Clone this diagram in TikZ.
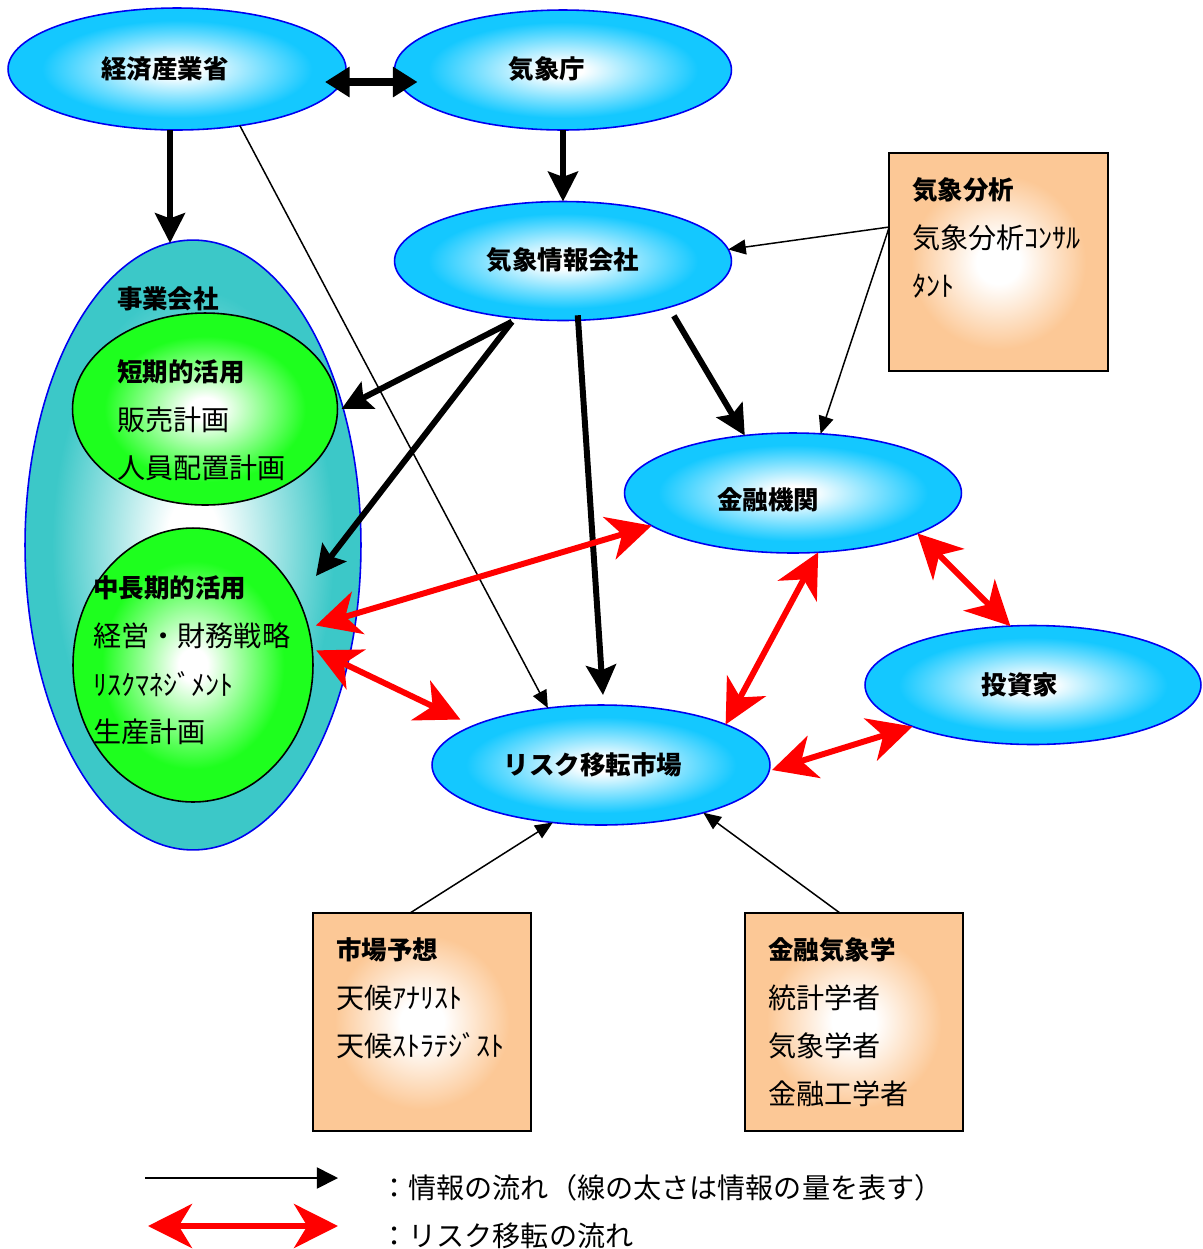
\documentclass[tikz,border=0pt]{standalone}
\usepackage{fontspec}
\setmainfont{Noto Sans CJK JP}
\usetikzlibrary{shapes.geometric,arrows.meta,calc}
\definecolor{bcyan}{RGB}{20,200,255}
\definecolor{ellblue}{RGB}{0,0,240}
\definecolor{corpteal}{RGB}{60,200,200}
\definecolor{lgreen}{RGB}{30,255,30}
\definecolor{peach}{RGB}{252,200,150}
\pgfdeclareradialshading{bluesh}{\pgfpoint{0bp}{0bp}}{color(0bp)=(white); color(3bp)=(white); color(20bp)=(bcyan); color(25bp)=(bcyan); color(50bp)=(bcyan)}
\pgfdeclareradialshading{tealsh}{\pgfpoint{0bp}{0bp}}{color(0bp)=(white); color(4bp)=(white); color(21bp)=(corpteal); color(25bp)=(corpteal); color(50bp)=(corpteal)}
\pgfdeclareradialshading{greensh}{\pgfpoint{0bp}{0bp}}{color(0bp)=(white); color(3bp)=(white); color(19bp)=(lgreen); color(25bp)=(lgreen); color(50bp)=(lgreen)}
\pgfdeclareradialshading{peachsh}{\pgfpoint{0bp}{0bp}}{color(0bp)=(white); color(5bp)=(white); color(20bp)=(peach); color(25bp)=(peach); color(50bp)=(peach)}
\tikzset{
  org/.style={ellipse, draw=ellblue, line width=0.9pt, shade, shading=bluesh, inner sep=0pt, outer sep=0pt},
  corpell/.style={ellipse, draw=ellblue, line width=0.9pt, shade, shading=tealsh, inner sep=0pt, outer sep=0pt},
  greenell/.style={ellipse, draw=black, line width=0.9pt, shade, shading=greensh, inner sep=0pt, outer sep=0pt},
  pbox/.style={rectangle, draw=black, line width=0.9pt, shade, shading=peachsh, inner sep=0pt, outer sep=0pt, minimum width=4.37cm, minimum height=4.36cm},
  lab/.style={font=\bfseries\fontsize{14.5}{17}\selectfont, inner sep=0pt},
  blab/.style={font=\bfseries\fontsize{14.5}{17}\selectfont, inner sep=0pt, anchor=west},
  txt/.style={font=\fontsize{16}{19}\selectfont, inner sep=0pt, anchor=west},
  thinarr/.style={draw=black, line width=0.85pt, arrows={-Triangle[length=10pt,width=8.5pt]}},
  thickarr/.style={draw=black, line width=3.4pt, arrows={-Stealth[length=17pt,width=17pt,inset=3pt]}},
  toparr/.style={draw=black, line width=4pt, arrows={Triangle[length=14pt,width=16.5pt]-Triangle[length=14pt,width=16.5pt]}},
  riskarr/.style={draw=red, line width=3.4pt, arrows={Stealth[length=25pt,width=25pt,inset=7.5pt]-Stealth[length=25pt,width=25pt,inset=7.5pt]}},
}
\begin{document}
\begin{tikzpicture}[x=0.02cm,y=-0.02cm]
\useasboundingbox (0,0) rectangle (1203,1249);
% ellipses
\node[org, minimum width=6.76cm, minimum height=2.44cm] (meti) at (177,69) {};
\node[org, minimum width=6.74cm, minimum height=2.4cm] (jma) at (563,70) {};
\node[org, minimum width=6.74cm, minimum height=2.38cm] (wic) at (563,261) {};
\node[corpell, minimum width=6.72cm, minimum height=12.2cm] (corp) at (193,545) {};
\node[greenell, minimum width=5.3cm, minimum height=3.84cm] (short) at (205,409) {};
\node[greenell, minimum width=4.8cm, minimum height=5.48cm] (mid) at (193,665) {};
\node[org, minimum width=6.74cm, minimum height=2.4cm] (fin) at (793,493) {};
\node[org, minimum width=6.72cm, minimum height=2.38cm] (inv) at (1033,685) {};
\node[org, minimum width=6.76cm, minimum height=2.4cm] (risk) at (601,765) {};
% boxes
\node[pbox] (boxA) at (998.5,262) {};
\node[pbox] (boxB) at (422,1022) {};
\node[pbox] (boxC) at (854,1022) {};
% labels
\node[lab] (tmeti) at (165,69) {経済産業省};
\node[lab] (tjma) at (547,69) {気象庁};
\node[lab] (twic) at (563,260) {気象情報会社};
\node[lab] (tcorp) at (168,299) {事業会社};
\node[lab] (tfin) at (768,500) {金融機関};
\node[lab] (tinv) at (1020,685) {投資家};
\node[lab] (trisk) at (593,765) {リスク移転市場};
\node[blab] (ts1) at (117,372) {短期的活用};
\node[txt] (ts2) at (117,420) {販売計画};
\node[txt] (ts3) at (117,468) {人員配置計画};
\node[blab] (tm1) at (93,588) {中長期的活用};
\node[txt] (tm2) at (93,636) {経営・財務戦略};
\node[txt] (tm3) at (93,684) {ﾘｽｸﾏﾈｼﾞﾒﾝﾄ};
\node[txt] (tm4) at (93,732) {生産計画};
\node[blab] (ta1) at (912,190) {気象分析};
\node[txt] (ta2) at (912,238) {気象分析ｺﾝｻﾙ};
\node[txt] (ta3) at (912,286) {ﾀﾝﾄ};
\node[blab] (tb1) at (336,950) {市場予想};
\node[txt] (tb2) at (336,998) {天候ｱﾅﾘｽﾄ};
\node[txt] (tb3) at (336,1046) {天候ｽﾄﾗﾃｼﾞｽﾄ};
\node[blab] (tc1) at (768,950) {金融気象学};
\node[txt] (tc2) at (768,998) {統計学者};
\node[txt] (tc3) at (768,1046) {気象学者};
\node[txt] (tc4) at (768,1094) {金融工学者};
% black connectors
\draw[toparr] ([shift={(-21,13)}]meti.east) -- ([shift={(23,12)}]jma.west);
\draw[thickarr] ([shift={(-7,0)}]meti.south) -- ([shift={(-23,3)}]corp.north);
\draw[thickarr] (jma.south) -- (wic.north);
\draw[thickarr] ([shift={(0,4)}]wic.-132) -- ([shift={(4,0)}]short.east);
\draw[thickarr] ([shift={(0,4)}]wic.-132) -- ([shift={(3,-89)}]mid.east);
\draw[thickarr] ([shift={(0,-5)}]wic.-76) -- ([shift={(2,-10)}]risk.north);
\draw[thickarr] ([shift={(0,10)}]wic.-22) -- (fin.130);
\draw[thinarr] (meti.-42) -- (risk.133);
\draw[thinarr] ([shift={(0,-35)}]boxA.west) -- (wic.4);
\draw[thinarr] ([shift={(0,-35)}]boxA.west) -- (fin.65);
\draw[thinarr] ([shift={(-12,0)}]boxB.north) -- (risk.-130);
\draw[thinarr] ([shift={(-14,0)}]boxC.north) -- (risk.-25);
% red connectors
\draw[riskarr] ([shift={(8,0)}]mid.19) -- (fin.-167);
\draw[riskarr] ([shift={(4,0)}]mid.7) -- ([shift={(-16,-5)}]risk.162);
\draw[riskarr] (fin.-67) -- (risk.18.5);
\draw[riskarr] (fin.-18) -- (inv.111);
\draw[riskarr] ([shift={(2,5)}]risk.east) -- (inv.-161);
% legend
\coordinate (la1) at (145,1178);
\coordinate (la2) at (338,1178);
\coordinate (lb1) at (148,1226);
\coordinate (lb2) at (338,1226);
\draw[draw=black, line width=1pt, arrows={-Triangle[length=12pt,width=12pt]}] (la1) -- (la2);
\draw[riskarr] (lb1) -- (lb2);
\node[txt] (leg1) at (380,1188) {：情報の流れ（線の太さは情報の量を表す）};
\node[txt] (leg2) at (380,1236) {：リスク移転の流れ};
\end{tikzpicture}
\end{document}
